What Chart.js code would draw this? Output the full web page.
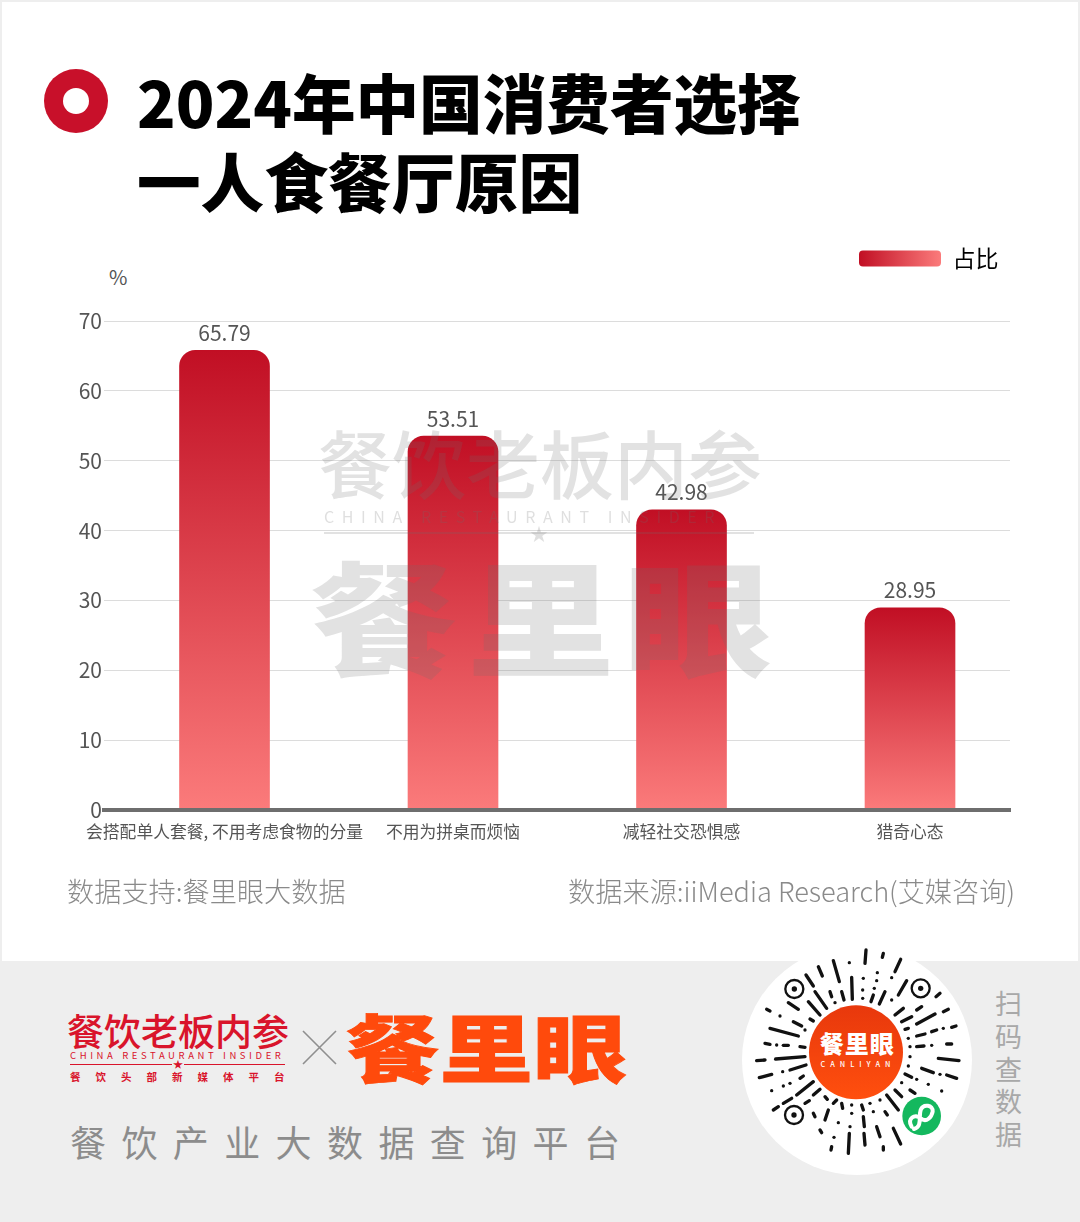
<!DOCTYPE html>
<html lang="zh"><head><meta charset="utf-8">
<script src="https://cdn.jsdelivr.net/npm/chart.js@4"></script>
<style>
html,body{margin:0;padding:0;background:#fff}
#page{position:relative;width:1080px;height:1222px;overflow:hidden;background:#fff;font-family:"Noto Sans CJK SC","Noto Sans",sans-serif}
#page div.t{position:absolute;white-space:nowrap;line-height:1}
#band{position:absolute;left:0;top:961px;width:1080px;height:261px;background:#eeeeee}
#frame{position:absolute;left:0;top:0;width:1080px;height:961px;box-sizing:border-box;border:solid #eeeeee;border-width:2px 2px 0 2px}
#canvasBox{position:absolute;left:0;top:0;width:1080px;height:880px}
#logo{position:absolute;left:44px;top:69px;width:64px;height:64px;border-radius:50%;background:#c8102a}
#logo i{position:absolute;left:19px;top:19px;width:26px;height:26px;border-radius:50%;background:#fff}
svg{position:absolute;overflow:visible}
</style></head><body>
<div id="page">
 <div id="frame"></div>
 <div id="band"></div>
 <div id="logo"><i></i></div>
 <div class="t" style="left:137px;top:69px;font-size:63.6px;font-weight:900;color:#000">2024年中国消费者选择</div>
 <div class="t" style="left:137px;top:148px;font-size:63.6px;font-weight:900;color:#000">一人食餐厅原因</div>
 <div class="t" style="left:109px;top:267px;font-size:20px;color:#555">%</div>
 <div id="canvasBox"><canvas id="c"></canvas></div>

 <!-- watermark -->
 <div class="t" style="left:318px;top:424px;font-size:74px;font-weight:500;color:rgba(110,110,110,.2)">餐饮老板内参</div>
 <div class="t" style="left:324px;top:508px;font-size:16px;letter-spacing:7.6px;color:rgba(110,110,110,.22)">CHINA RESTAURANT INSIDER</div>
 <div style="position:absolute;left:324px;top:532px;width:430px;height:2px;background:rgba(110,110,110,.2)"></div>
 <div class="t" style="left:530px;top:524px;font-size:18px;color:rgba(110,110,110,.22)">★</div>
 <div class="t" style="left:310px;top:551px;font-size:132px;font-weight:900;letter-spacing:8px;transform:scale(1.12,.94);transform-origin:left top;color:rgba(110,110,110,.2)">餐里眼</div>

 <!-- footer notes -->
 <div class="t" style="left:67px;top:877px;font-size:27.2px;font-weight:300;color:#8a8a8a">数据支持:餐里眼大数据</div>
 <div class="t" style="right:65px;top:877px;font-size:27.2px;font-weight:300;color:#8a8a8a">数据来源:iiMedia Research(艾媒咨询)</div>

 <!-- brand block -->
 <div class="t" style="left:67px;top:1012px;font-size:37px;color:#d9142b;font-weight:500">餐饮老板内参</div>
 <div class="t" style="left:70px;top:1051px;font-size:9.5px;letter-spacing:3.6px;color:#d9142b">CHINA RESTAURANT INSIDER</div>
 <div style="position:absolute;left:70px;top:1064px;width:215px;height:1px;background:#d9142b"></div>
 <div class="t" style="left:172px;top:1059px;font-size:10px;color:#d9142b;background:#eee;padding:0 1px">★</div>
 <div class="t" style="left:70px;top:1072px;font-size:10.5px;font-weight:700;letter-spacing:15px;color:#d9142b">餐饮头部新媒体平台</div>
 <svg style="left:300px;top:1028px" width="40" height="40"><path d="M3 3L36 36M36 3L3 36" stroke="#8f8f8f" stroke-width="1.6" fill="none"/></svg>
 <div class="t" style="left:346px;top:1007px;font-size:85px;font-weight:900;transform:scale(1.1,.87);transform-origin:left top;-webkit-text-stroke:1px #ff4a0c;color:#ff4a0c">餐里眼</div>
 <div class="t" style="left:70px;top:1123px;font-size:36px;letter-spacing:15.4px;color:#8c8c8c">餐饮产业大数据查询平台</div>

 <!-- mini-program code -->
 <svg style="left:730px;top:940px" width="320" height="240" viewBox="0 0 960 720">
  <defs><linearGradient id="og" x1="0" y1="0" x2="0" y2="1"><stop offset="0" stop-color="#e8380c"/><stop offset="1" stop-color="#ff4f0e"/></linearGradient></defs>
  <circle cx="381" cy="360" r="345" fill="#fff"/>
  <g id="qr" stroke="#111" stroke-width="10" stroke-linecap="round" fill="none"></g>
  <g fill="none" stroke="#111" stroke-width="7"><circle cx="193" cy="147" r="27"/><circle cx="572" cy="145" r="27"/><circle cx="192" cy="525" r="27"/></g>
  <g fill="#111"><circle cx="193" cy="147" r="8"/><circle cx="572" cy="145" r="8"/><circle cx="192" cy="525" r="8"/></g>
  <circle cx="378" cy="337" r="141" fill="url(#og)"/>
  <text x="382" y="340" text-anchor="middle" font-size="72" font-weight="900" letter-spacing="3" fill="#fff" font-family="Noto Sans CJK SC">餐里眼</text>
  <text x="384" y="380" text-anchor="middle" font-size="22" font-weight="500" letter-spacing="15" fill="#fff" font-family="Noto Sans CJK SC">CANLIYAN</text>
  <circle cx="575" cy="528" r="58" fill="#14b85e"/>
  <path d="M545 560C530 535 555 520 572 535C590 550 605 530 608 515C610 495 580 490 572 510C565 530 578 560 552 567" stroke="#fff" stroke-width="12" fill="none" stroke-linecap="round"/>
 </svg>
 <div class="t" style="left:995px;top:987px;font-size:27px;line-height:32.8px;white-space:normal;width:27px;color:#a8a8a8">扫码查数据</div>
</div>

<script>
const categories = ['会搭配单人套餐, 不用考虑食物的分量', '不用为拼桌而烦恼', '减轻社交恐惧感', '猎奇心态'];
const shares = [65.79, 53.51, 42.98, 28.95];
const seriesName = '占比';
const yTicks = [0, 10, 20, 30, 40, 50, 60, 70];
const xPositions = [0, 1, 2, 3];
const barTop = '#c10f24';
const barBottom = '#fb7b7b';

const qrStrokes = [[408,30,405,70],[460,40,457,52],[512,58,495,95],[310,62,328,125],[265,80,277,108],[358,68,358,68],[228,105,250,138],[365,112,367,178],[400,115,400,115],[442,98,442,98],[485,113,485,113],[440,122,440,122],[398,150,398,150],[433,145,433,145],[398,175,398,175],[530,122,505,165],[465,155,448,192],[430,165,423,185],[335,155,342,180],[300,155,305,170],[255,155,290,205],[315,188,315,188],[175,188,205,208],[235,185,270,225],[630,160,618,170],[485,180,485,180],[520,205,495,225],[575,200,560,210],[655,208,640,215],[110,208,120,213],[150,228,150,228],[190,245,215,258],[240,237,250,243],[545,230,515,245],[615,222,560,252],[120,265,205,288],[678,258,665,262],[640,265,640,265],[620,270,605,275],[585,282,560,288],[535,265,525,268],[225,270,225,270],[105,310,120,313],[140,315,140,315],[160,316,175,316],[210,320,225,322],[560,320,582,318],[605,316,605,316],[650,312,665,312],[535,295,535,295],[540,320,540,320],[80,362,105,360],[137,357,225,350],[625,355,687,362],[540,350,540,350],[180,390,228,375],[535,378,535,378],[575,385,610,398],[630,403,630,403],[650,405,680,415],[88,413,125,403],[158,395,158,395],[525,402,545,412],[560,418,560,418],[595,433,595,433],[635,453,635,453],[210,415,220,408],[180,430,180,430],[160,438,160,438],[200,465,250,425],[515,428,515,428],[495,450,515,470],[540,450,555,460],[250,465,270,448],[125,452,125,452],[285,470,292,478],[160,490,185,475],[225,490,238,482],[470,465,505,510],[130,510,145,500],[310,490,320,480],[335,490,338,505],[365,495,365,495],[395,495,400,510],[420,490,420,490],[450,480,450,480],[295,510,285,540],[250,520,255,530],[365,520,365,520],[430,515,430,515],[465,515,472,525],[400,530,403,560],[325,548,325,548],[360,560,360,560],[270,570,275,578],[440,560,450,590],[490,565,512,612],[358,580,355,640],[402,580,405,615],[312,592,312,592],[305,620,303,630],[460,620,460,630]];
const qrGroup = document.getElementById('qr');
qrStrokes.forEach(s => {
  const l = document.createElementNS('http://www.w3.org/2000/svg', 'line');
  l.setAttribute('x1', s[0]); l.setAttribute('y1', s[1]);
  l.setAttribute('x2', s[2]); l.setAttribute('y2', s[3]);
  qrGroup.appendChild(l);
});

const FONT = '"Noto Sans CJK SC","Noto Sans",sans-serif';

const valueLabels = {
  id: 'valueLabels',
  afterDatasetsDraw(chart) {
    const ctx = chart.ctx;
    const meta = chart.getDatasetMeta(0);
    ctx.save();
    ctx.font = '21px ' + FONT;
    ctx.fillStyle = '#555';
    ctx.textAlign = 'center';
    ctx.textBaseline = 'bottom';
    meta.data.forEach((bar, i) => ctx.fillText(shares[i].toFixed(2), bar.x, bar.y - 7));
    ctx.restore();
  }
};
const moveLegend = {
  id: 'moveLegend',
  afterLayout(chart) {
    const l = chart.legend;
    l.top -= 41; l.bottom -= 41;
    l.left -= 1.5; l.right -= 1.5;
  }
};

new Chart(document.getElementById('c'), {
  type: 'bar',
  data: {
    labels: categories,
    datasets: [{
      label: seriesName,
      data: shares.map((v, i) => ({ x: xPositions[i], y: v })),
      barThickness: 90,
      borderRadius: { topLeft: 16, topRight: 16, bottomLeft: 0, bottomRight: 0 },
      borderSkipped: 'bottom',
      backgroundColor(c) {
        const a = c.chart.chartArea;
        if (!a || c.parsed === undefined || c.parsed.y === undefined) return barTop;
        const ys = c.chart.scales.y;
        const g = c.chart.ctx.createLinearGradient(0, ys.getPixelForValue(c.parsed.y), 0, ys.getPixelForValue(0));
        g.addColorStop(0, barTop);
        g.addColorStop(1, barBottom);
        return g;
      }
    }]
  },
  plugins: [valueLabels, moveLegend],
  options: {
    responsive: true,
    maintainAspectRatio: false,
    animation: false,
    layout: { autoPadding: false, padding: { top: 278, right: 70, bottom: 0, left: 0 } },
    plugins: {
      tooltip: { enabled: false },
      legend: {
        display: true,
        position: 'top',
        align: 'end',
        labels: {
          boxWidth: 82,
          boxHeight: 16,
          padding: 10,
          useBorderRadius: true,
          borderRadius: 4,
          color: '#333',
          font: { family: FONT, size: 23 },
          generateLabels(chart) {
            const g = chart.ctx.createLinearGradient(859, 0, 941, 0);
            g.addColorStop(0, barTop);
            g.addColorStop(1, barBottom);
            return [{ text: seriesName, fillStyle: g, strokeStyle: 'transparent', lineWidth: 0, datasetIndex: 0, borderRadius: 4 }];
          }
        }
      }
    },
    scales: {
      x: {
        type: 'linear',
        offset: false,
        min: -0.5274,
        max: 3.4376,
        afterBuildTicks(s) { s.ticks = xPositions.map(v => ({ value: v })); },
        afterFit(s) { s.height = 70; },
        grid: { display: false, offset: false },
        border: { display: true, color: '#6e6e6e', width: 4, z: 1 },
        ticks: {
          autoSkip: false, maxRotation: 0, minRotation: 0, padding: 4,
          color: '#555', font: { family: FONT, size: 16.8 },
          callback: v => categories[v]
        }
      },
      y: {
        min: 0,
        max: 70,
        afterBuildTicks(s) { s.ticks = yTicks.map(v => ({ value: v })); },
        afterFit(s) { s.width = 104; },
        grid: { color: '#dcdcdc', lineWidth: 1, drawTicks: false },
        border: { display: false },
        ticks: { padding: 2, color: '#555', font: { family: FONT, size: 21 } }
      }
    }
  }
});
</script>
</body></html>
